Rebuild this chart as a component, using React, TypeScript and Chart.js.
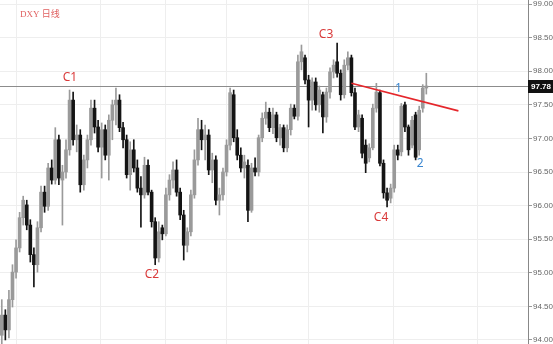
import { useEffect, useRef } from 'react';
import { Chart, registerables } from 'chart.js';
Chart.register(...registerables);

// Daily DXY candles
const opens = [
  94.07, 94.37, 94.15, 94.60, 95.01, 95.37, 95.82, 96.01, 95.71, 95.27,
  95.12, 95.67, 96.20, 95.99, 96.56, 96.38, 96.98, 96.38, 96.50, 96.83,
  97.57, 96.98, 97.05, 96.31, 96.68, 96.98, 97.45, 97.17, 96.87, 97.13,
  96.75, 97.27, 97.50, 97.57, 97.16, 96.98, 96.46, 96.83, 96.56, 96.26,
  96.16, 96.60, 96.20, 95.76, 95.22, 95.67, 95.58, 96.16, 96.38, 96.53,
  96.20, 95.86, 95.41, 95.61, 96.16, 96.68, 97.13, 96.98, 97.05, 96.53,
  96.68, 96.08, 96.16, 96.50, 96.90, 97.65, 97.01, 96.75, 96.56, 96.60,
  95.93, 96.56, 96.50, 97.01, 97.30, 97.39, 97.16, 97.35, 97.01, 97.16,
  96.86, 97.13, 97.45, 97.33, 98.14, 98.20, 97.87, 97.57, 97.84, 97.50,
  97.65, 97.32, 97.69, 97.99, 98.14, 97.97, 97.65, 98.09, 98.20, 97.68,
  97.17, 97.30, 96.90, 96.71, 96.86, 97.45, 97.68, 96.63, 96.19, 96.11,
  96.26, 96.83, 96.80, 97.50, 97.17, 96.90, 97.35, 96.83, 97.45, 97.75,
];
const highs = [
  94.60, 94.45, 94.74, 95.12, 95.49, 95.90, 96.14, 96.08, 95.79, 95.37,
  95.76, 96.29, 96.29, 96.63, 96.68, 97.16, 97.05, 96.60, 96.98, 97.72,
  97.69, 97.20, 97.13, 96.75, 97.05, 97.57, 97.57, 97.27, 97.23, 97.20,
  97.35, 97.57, 97.75, 97.65, 97.24, 97.05, 96.95, 96.98, 96.68, 96.43,
  96.72, 96.68, 96.23, 95.82, 95.76, 95.71, 96.26, 96.46, 96.65, 96.68,
  96.26, 95.93, 95.67, 96.23, 96.83, 97.30, 97.27, 97.20, 97.13, 96.78,
  96.74, 96.26, 96.56, 96.98, 97.75, 97.72, 97.13, 96.86, 96.75, 96.68,
  96.63, 96.71, 97.05, 97.38, 97.54, 97.45, 97.45, 97.39, 97.21, 97.20,
  97.20, 97.51, 97.50, 98.24, 98.39, 98.24, 97.94, 97.90, 97.90, 97.78,
  97.69, 97.75, 98.05, 98.17, 98.42, 98.02, 98.17, 98.29, 98.24, 97.75,
  97.42, 97.35, 96.98, 96.92, 97.51, 97.82, 97.72, 96.68, 96.26, 96.32,
  96.90, 96.90, 97.52, 97.54, 97.20, 97.33, 97.39, 97.48, 97.80, 97.97,
];
const lows = [
  93.94, 94.00, 94.03, 94.49, 94.92, 95.31, 95.71, 95.64, 95.16, 94.79,
  95.01, 95.61, 95.90, 95.93, 96.32, 96.32, 96.31, 95.71, 96.41, 96.75,
  96.90, 96.80, 96.20, 96.23, 96.56, 96.90, 97.08, 96.80, 96.41, 96.68,
  96.38, 96.98, 97.20, 97.10, 96.86, 96.41, 96.23, 96.50, 96.20, 95.68,
  96.11, 96.16, 95.68, 95.12, 95.16, 95.49, 95.55, 96.08, 96.26, 96.14,
  95.79, 95.19, 95.31, 95.55, 96.11, 96.60, 96.83, 96.68, 96.46, 96.34,
  96.01, 95.86, 96.08, 96.44, 96.83, 96.95, 96.68, 96.50, 96.41, 95.76,
  95.90, 96.44, 96.44, 96.95, 97.21, 97.10, 97.07, 96.95, 96.90, 96.80,
  96.80, 97.05, 97.29, 97.27, 98.02, 97.81, 97.17, 97.42, 97.42, 97.39,
  97.08, 97.24, 97.60, 97.90, 97.91, 97.57, 97.60, 98.02, 97.63, 97.13,
  97.10, 96.71, 96.49, 96.65, 96.83, 97.39, 96.59, 96.11, 95.98, 96.04,
  96.20, 96.68, 96.74, 97.10, 96.75, 96.86, 96.68, 96.75, 97.39, 97.66,
];
const closes = [
  94.37, 94.15, 94.60, 95.01, 95.37, 95.82, 96.08, 95.71, 95.27, 95.12,
  95.67, 96.20, 95.99, 96.56, 96.38, 96.98, 96.41, 96.50, 96.83, 97.57,
  96.98, 97.05, 96.31, 96.68, 96.98, 97.45, 97.17, 96.87, 97.13, 96.75,
  97.27, 97.50, 97.57, 97.16, 96.98, 96.46, 96.83, 96.56, 96.26, 96.16,
  96.60, 96.20, 95.76, 95.22, 95.61, 95.58, 96.16, 96.38, 96.53, 96.20,
  95.86, 95.41, 95.61, 96.16, 96.68, 97.13, 96.98, 97.05, 96.53, 96.68,
  96.08, 96.16, 96.50, 96.90, 97.68, 97.01, 96.75, 96.56, 96.65, 95.93,
  96.56, 96.50, 97.01, 97.30, 97.39, 97.16, 97.35, 97.01, 97.16, 96.86,
  97.13, 97.45, 97.33, 98.14, 98.29, 97.87, 97.57, 97.84, 97.50, 97.72,
  97.32, 97.69, 97.99, 98.09, 97.97, 97.65, 98.09, 98.20, 97.68, 97.17,
  97.35, 96.78, 96.63, 96.86, 97.45, 97.69, 96.63, 96.19, 96.08, 96.26,
  96.83, 96.75, 97.48, 97.17, 96.83, 97.27, 96.72, 97.42, 97.75, 97.78,
];

// y-axis
const yMin = 93.94;
const yMax = 99.06;
const yStep = 0.5;
// x-axis (bar slots, including the empty space on the right)
const xMin = -0.5;
const xMax = 147.5;
const verticalGrid = [16, 39.5, 52, 74, 98, 121.5, 145];

// trend line (slot index, price)
const trendX = [98, 128];
const trendY = [97.82, 97.41];

// text marks
const markText = ['C1', 'C2', 'C3', 'C4', '1', '2'];
const markX = [19.1, 42.1, 90.9, 106.3, 111.2, 117.3];
const markY = [97.91, 94.98, 98.55, 95.82, 97.74, 96.63];
const markColor = ['#d93a3a', '#d93a3a', '#d93a3a', '#d93a3a', '#3a86d0', '#3a86d0'];

const title = 'DXY 日线';
const lastPrice = closes[closes.length - 1];

const UP = '#9a9a9a';
const DOWN = '#141414';

const overlay = {
  id: 'overlay',
  beforeDatasetsDraw(chart: any) {
    const { ctx, chartArea, scales } = chart;
    const py = Math.round(scales.y.getPixelForValue(lastPrice)) + 0.5;
    ctx.save();
    ctx.strokeStyle = '#8c8c8c';
    ctx.lineWidth = 1;
    ctx.beginPath();
    ctx.moveTo(chartArea.left, py);
    ctx.lineTo(chartArea.right, py);
    ctx.stroke();
    ctx.restore();
  },
  afterDatasetsDraw(chart: any) {
    const { ctx, chartArea, scales } = chart;
    const x = scales.x;
    const y = scales.y;
    ctx.save();
    // price tag
    const py = Math.round(y.getPixelForValue(lastPrice));
    ctx.fillStyle = '#111';
    ctx.fillRect(chartArea.right, py - 6, chart.width - chartArea.right, 13);
    ctx.fillStyle = '#fff';
    ctx.font = 'bold 8px "Liberation Sans", Arial, sans-serif';
    ctx.textBaseline = 'middle';
    ctx.textAlign = 'left';
    ctx.fillText(lastPrice.toFixed(2), chartArea.right + 3, py + 0.5);
    // marks
    ctx.textAlign = 'center';
    for (let i = 0; i < markText.length; i++) {
      ctx.fillStyle = markColor[i];
      ctx.font = '12px "Noto Sans", "Open Sans", sans-serif';
      ctx.fillText(markText[i], x.getPixelForValue(markX[i]), y.getPixelForValue(markY[i]));
    }
    // title
    ctx.textAlign = 'left';
    ctx.fillStyle = '#e06060';
    ctx.font = '9px "Liberation Serif", "Noto Sans CJK SC", serif';
    ctx.fillText(title, chartArea.left + 20, 15);
    ctx.restore();
  },
};

export default function App() {
  const ref = useRef<HTMLCanvasElement | null>(null);
  useEffect(() => {
    if (!ref.current) return;
    const idx = opens.map((_, i) => i);
    const colors = idx.map((i) => (closes[i] >= opens[i] ? UP : DOWN));
    const chart = new Chart(ref.current, {
      type: 'bar',
      data: {
        datasets: [
          {
            type: 'line',
            data: trendX.map((v, i) => ({ x: v, y: trendY[i] })),
            borderColor: '#e5262b',
            borderWidth: 1.6,
            pointRadius: 0,
            order: 0,
          } as any,
          {
            data: idx.map((i) => ({ x: i, y: [opens[i], closes[i]] })),
            backgroundColor: colors,
            borderWidth: 0,
            barThickness: 3,
            minBarLength: 1,
            grouped: false,
            order: 1,
          } as any,
          {
            data: idx.map((i) => ({ x: i, y: [lows[i], highs[i]] })),
            backgroundColor: colors,
            borderWidth: 0,
            barThickness: 1,
            grouped: false,
            order: 2,
          } as any,
        ],
      },
      options: {
        animation: false,
        responsive: false,
        layout: { padding: 0 },
        plugins: { legend: { display: false }, tooltip: { enabled: false } },
        scales: {
          x: {
            type: 'linear',
            min: xMin,
            max: xMax,
            offset: false,
            afterBuildTicks: (s: any) => {
              s.ticks = verticalGrid.map((v) => ({ value: v }));
            },
            afterFit: (s: any) => {
              s.height = 0;
              s.paddingLeft = 0;
              s.paddingRight = 0;
            },
            ticks: { display: false },
            grid: { color: '#eeeeee', drawTicks: false },
            border: { display: false },
          },
          y: {
            type: 'linear',
            position: 'right',
            min: yMin,
            max: yMax,
            afterFit: (s: any) => {
              s.width = 25;
              s.paddingTop = 0;
              s.paddingBottom = 0;
            },
            ticks: {
              stepSize: yStep,
              includeBounds: false,
              padding: 1,
              color: '#666',
              font: { size: 8, family: '"Liberation Sans", Arial, sans-serif' },
              callback: (v: any) => Number(v).toFixed(2),
            },
            grid: { color: '#eeeeee', tickColor: '#999', tickLength: 4 },
            border: { display: true, color: '#888' },
          },
        },
      } as any,
      plugins: [overlay],
    });
    return () => chart.destroy();
  }, []);
  return (
    <div style={{ position: 'absolute', left: 0, top: 0, width: 553, height: 344 }}>
      <canvas ref={ref} width={553} height={344} style={{ display: 'block' }} />
    </div>
  );
}
